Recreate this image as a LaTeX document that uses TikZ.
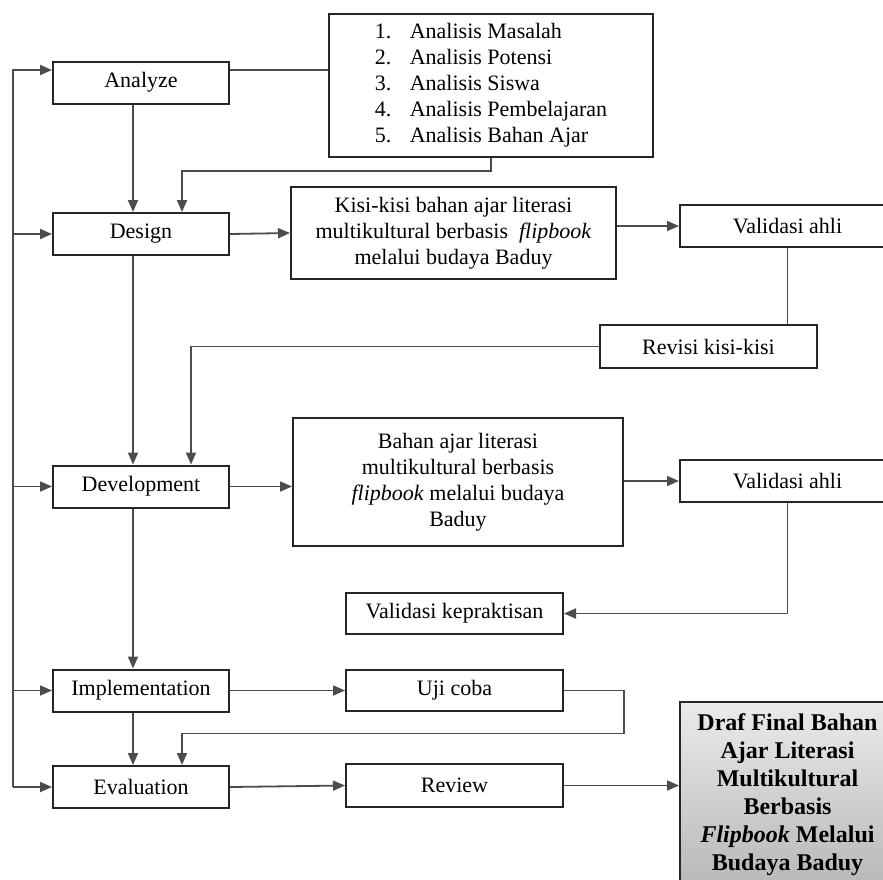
\documentclass[tikz,border=0pt]{standalone}
\usepackage{fontspec}
\setmainfont{Liberation Serif}
\usetikzlibrary{arrows.meta}

\begin{document}
\begin{tikzpicture}[x=1pt,y=-1pt,
  box/.style={draw=black!85,line width=2pt,minimum height=42pt,inner sep=2pt,align=center,font=\fontsize{22}{26}\selectfont},
  stage/.style={box,minimum width=176pt},
  side/.style={box,minimum width=217pt},
  ln/.style={draw=black!70,line width=1.8pt},
  arr/.style={ln,-{Triangle[length=12pt,width=10pt]}}]
 \useasboundingbox (0,0) rectangle (883,879);
 \clip (0,0) rectangle (883,879);
 \node[stage] (analyze) at (141,82.5) {Analyze};
 \node[stage] (design) at (141,234) {Design};
 \node[stage] (devel) at (141,486.5) {Development};
 \node[stage] (impl) at (141,690.5) {Implementation};
 \node[stage] (eval) at (141,787) {Evaluation};
 \node[box,minimum width=324pt,minimum height=143pt] (list) at (491,85.5)
  {\begin{tabular}{@{}p{35pt}@{}l@{}}
   1. & Analisis Masalah\\
   2. & Analisis Potensi\\
   3. & Analisis Siswa\\
   4. & Analisis Pembelajaran\\
   5. & Analisis Bahan Ajar
  \end{tabular}};
 \node[box,minimum width=325pt,minimum height=92pt] (kisi) at (453.5,233)
  {Kisi-kisi bahan ajar literasi\\ multikultural berbasis \ \textit{flipbook}\\ melalui budaya Baduy};
 \node[box,minimum width=215pt] (val1) at (787.5,226) {Validasi ahli};
 \node[box,minimum width=217pt,minimum height=43pt] (revisi) at (708.5,346.5) {Revisi kisi-kisi};
 \node[box,minimum width=330pt,minimum height=128pt] (bahan) at (458,482)
  {Bahan ajar literasi\\ multikultural berbasis\\ \textit{flipbook} melalui budaya\\ Baduy};
 \node[box,minimum width=215pt] (val2) at (787.5,481) {Validasi ahli};
 \node[side,minimum height=41pt] (kepr) at (454.5,613.5) {Validasi kepraktisan};
 \node[side,minimum height=41pt] (uji) at (454.5,690.5) {Uji coba};
 \node[side,minimum height=43pt] (review) at (454.5,785.5) {Review};
 \node[box,minimum width=215pt,minimum height=185pt,top color=black!8,bottom color=black!28,
  font=\fontsize{24}{28}\selectfont\bfseries] (draf) at (787.5,794.5)
  {Draf Final Bahan\\ Ajar Literasi\\ Multikultural\\ Berbasis\\ \textit{Flipbook} Melalui\\ Budaya Baduy};
 \coordinate (top) at (13,70);
 \coordinate (bot) at (13,787);
 \draw[arr] (bot) -- (top) -- ([yshift=12.5pt]analyze.west);
 \draw[arr] (top |- design.west) -- (design.west);
 \draw[arr] (top |- devel.west) -- (devel.west);
 \draw[arr] (top |- impl.west) -- (impl.west);
 \draw[arr] (bot) -- (eval.west);
 \path ([yshift=12.5pt]analyze.east) coordinate (a1);
 \draw[ln] (a1) -- (a1 -| list.west);
 \draw[arr] ([xshift=-8pt]analyze.south) -- ([xshift=-8pt]design.north);
 \draw[arr] (list.south) -- ++(0,13) -| ([xshift=41pt]design.north);
 \draw[arr] (design.east) -- (kisi.west);
 \draw[arr] (kisi.east |- val1.west) -- (val1.west);
 \draw[ln] (val1.south) -- (val1.south |- revisi.north);
 \draw[arr] (revisi.west) -| ([xshift=50pt]devel.north);
 \draw[arr] ([xshift=-8pt]design.south) -- ([xshift=-8pt]devel.north);
 \draw[arr] (devel.east) -- (devel.east -| bahan.west);
 \draw[arr] (bahan.east |- val2.west) -- (val2.west);
 \draw[arr] (val2.south) |- (kepr.east);
 \draw[arr] ([xshift=-8pt]devel.south) -- ([xshift=-8pt]impl.north);
 \draw[arr] (impl.east) -- (uji.west);
 \draw[arr] (uji.east) -- ++(60,0) -- ++(0,43) -| ([xshift=41pt]eval.north);
 \draw[arr] ([xshift=-8pt]impl.south) -- ([xshift=-8pt]eval.north);
 \draw[arr] (eval.east) -- (review.west);
 \draw[arr] (review.east) -- (review.east -| draf.west);
\end{tikzpicture}
\end{document}
